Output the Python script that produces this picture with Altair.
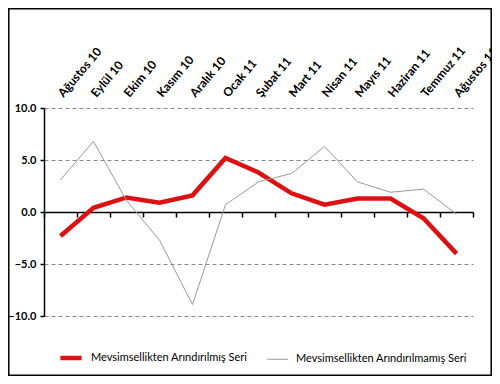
import altair as alt
import pandas as pd

months = ["Ağustos 10", "Eylül 10", "Ekim 10", "Kasım 10", "Aralık 10", "Ocak 11",
          "Şubat 11", "Mart 11", "Nisan 11", "Mayıs 11", "Haziran 11", "Temmuz 11", "Ağustos 11"]
adjusted = [-2.3, 0.4, 1.4, 0.9, 1.6, 5.2, 3.8, 1.8, 0.7, 1.3, 1.3, -0.6, -4.0]
unadjusted = [3.1, 6.8, 1.1, -2.7, -8.9, 0.7, 2.9, 3.7, 6.3, 2.9, 1.9, 2.2, -0.2]
series_names = ["Mevsimsellikten Arındırılmış Seri", "Mevsimsellikten Arındırılmamış Seri"]

rows = []
for m, a, u in zip(months, adjusted, unadjusted):
    rows.append({"ay": m, "seri": series_names[0], "deger": a})
    rows.append({"ay": m, "seri": series_names[1], "deger": u})
df = pd.DataFrame(rows)

FONT = "Lato"
W, H = 429, 208

xscale = alt.Scale(type="band", domain=months, paddingInner=0, paddingOuter=0)
yscale = alt.Scale(domain=[-10, 10], nice=False)

legend_cfg = dict(title=None, orient="none", legendX=14, legendY=237,
                  direction="horizontal", symbolType="stroke",
                  symbolSize=450, labelFont=FONT, labelFontSize=11, labelLimit=300,
                  labelColor="black", columnPadding=16, labelOffset=7)

lines = alt.Chart(df).mark_line(strokeJoin="miter").encode(
    x=alt.X("ay:N", scale=xscale, bandPosition=0.5, title=None,
            axis=alt.Axis(orient="top", domain=False, ticks=False, grid=False,
                          labelAngle=-50, labelAlign="left", labelBaseline="middle",
                          labelPadding=13, labelFont=FONT, labelFontSize=12,
                          labelFontWeight="bold", labelColor="black", labelOverlap=False)),
    y=alt.Y("deger:Q", scale=yscale, title=None,
            axis=alt.Axis(values=[-10, -5, 0, 5, 10], format=".1f", labelFont=FONT,
                          labelFontSize=11, labelFontWeight="bold", labelColor="black",
                          domainColor="black", domainWidth=1.5, tickColor="black",
                          tickSize=4, tickWidth=1.5, labelPadding=4,
                          grid=True, gridDash=[4, 3], gridColor="#888888", gridWidth=1)),
    color=alt.Color("seri:N", scale=alt.Scale(domain=series_names, range=["#dd1111", "#999999"]),
                    legend=alt.Legend(**legend_cfg)),
    strokeWidth=alt.StrokeWidth("seri:N", scale=alt.Scale(domain=series_names, range=[4.5, 1]),
                                legend=alt.Legend(**legend_cfg)),
    order=alt.Order("seri:N", sort="descending"),
)

zero_axis = alt.Chart(df).mark_line(opacity=0).encode(
    x=alt.X("ay:N", scale=xscale, bandPosition=0.5, title=None,
            axis=alt.Axis(orient="bottom", offset=-H / 2, labels=False, grid=False,
                          domainColor="black", domainWidth=1.5, tickColor="black",
                          tickWidth=1.5, tickSize=5, tickBand="extent")),
    y=alt.Y("deger:Q", scale=yscale),
)

frame = alt.Chart(pd.DataFrame({"k": [0]})).mark_rect(
    fill=None, stroke="black", strokeWidth=1.5
).encode(
    x=alt.value(-35.2), x2=alt.value(W + 18.2),
    y=alt.value(-99.2), y2=alt.value(H + 59.2),
)

chart = alt.layer(frame, zero_axis, lines).resolve_axis(x="independent").properties(
    width=W, height=H,
    autosize=alt.AutoSizeParams(type="none"),
    padding={"left": 36, "top": 100, "right": 19, "bottom": 60},
).configure_view(stroke=None)

chart.save("out.html", embed_options={"renderer": "svg", "actions": False})
